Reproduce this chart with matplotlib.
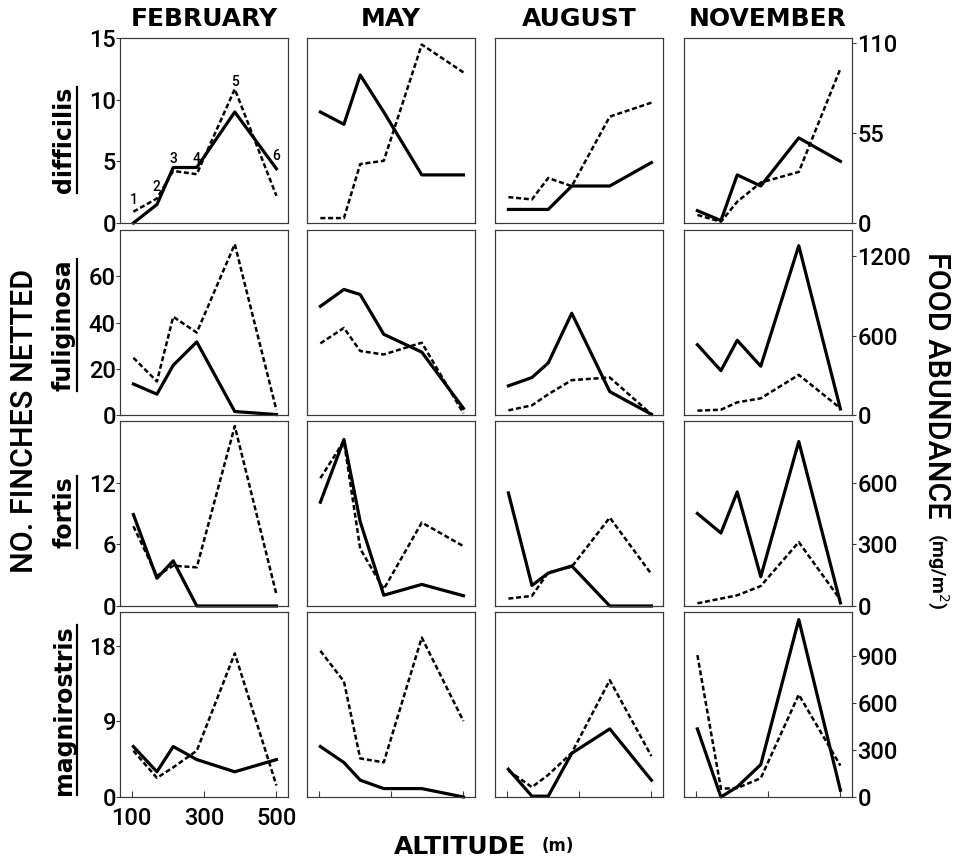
import matplotlib
matplotlib.use("Agg")
import matplotlib.pyplot as plt
from matplotlib.lines import Line2D

plt.rcParams["font.family"] = ["Roboto", "DejaVu Sans"]
plt.rcParams["mathtext.fontset"] = "dejavusans"

# ====================================
# DATA
# ====================================

altitude = [105, 170, 215, 280, 385, 500]
stations = ["1", "2", "3", "4", "5", "6"]
months = ["FEBRUARY", "MAY", "AUGUST", "NOVEMBER"]
species = ["difficilis", "fuliginosa", "fortis", "magnirostris"]

# finches netted (solid), one list per month: Feb, May, Aug, Nov
finches_difficilis = [[0, 1.5, 4.5, 4.5, 9.0, 4.4],
                      [9.0, 8.0, 12.0, 9.0, 3.9, 3.9],
                      [1.1, 1.1, 1.1, 3.0, 3.0, 4.9],
                      [1.0, 0.2, 3.9, 3.0, 6.9, 5.0]]
finches_fuliginosa = [[13.4, 9.0, 21.5, 31.6, 1.5, 0.2],
                      [47, 54.3, 52.1, 34.9, 27.2, 2.9],
                      [12.6, 16.2, 22.5, 44, 10.1, 0.3],
                      [30.4, 19.2, 32.3, 21.1, 73.2, 2.6]]
finches_fortis = [[8.9, 2.7, 4.4, 0, 0, 0],
                  [10.1, 16.2, 8.2, 1.05, 2.1, 1.0],
                  [11.0, 2.0, 3.2, 3.9, 0, 0],
                  [9.0, 7.1, 11.1, 2.85, 16.0, 0.3]]
finches_magnirostris = [[6.0, 3.0, 6.0, 4.45, 3.0, 4.45],
                        [6.0, 4.1, 2.0, 1.0, 1.0, 0],
                        [3.3, 0.1, 0.1, 5.2, 8.1, 2.0],
                        [8.1, 0, 1.2, 3.85, 21.1, 0.8]]

# food abundance mg/m2 (dashed)
food_difficilis = [[6.9, 15, 31.8, 29.8, 81.8, 16.6],
                   [3, 3, 36, 38, 109, 92],
                   [15.8, 14.4, 27.5, 22.5, 65, 73.5],
                   [4.9, 0.8, 13, 24.7, 31.2, 94.3]]
food_fuliginosa = [[433, 254, 743, 624, 1293, 38],
                   [542, 659, 484, 458, 547, 13],
                   [35, 73, 157, 264, 284, 5],
                   [33, 40, 96, 126, 304, 51]]
food_fortis = [[388, 147, 196, 188, 875, 57],
               [622, 802, 278, 82, 406, 291],
               [36, 49, 163, 191, 430, 155],
               [13, 36, 52, 97, 311, 30]]
food_magnirostris = [[295, 122, 189, 295, 916, 74],
                     [932, 737, 246, 221, 1017, 484],
                     [168, 63, 141, 282, 745, 261],
                     [905, 53, 57, 120, 653, 200]]

finches = [finches_difficilis, finches_fuliginosa, finches_fortis, finches_magnirostris]
food = [food_difficilis, food_fuliginosa, food_fortis, food_magnirostris]

left_max = [15, 80, 18, 22]
right_max = [113, 1400, 900, 1180]
left_ticks = [[0, 5, 10, 15], [0, 20, 40, 60], [0, 6, 12], [0, 9, 18]]
right_ticks = [[0, 55, 110], [0, 600, 1200], [0, 300, 600], [0, 300, 600, 900]]
x_ticks = [100, 300, 500]

# ====================================
# LAYOUT
# ====================================

W, H = 957, 864
fig = plt.figure(figsize=(W / 100, H / 100), dpi=100)

col_left = [120, 307, 495, 684]
row_top = [38, 230, 421, 612]
pw, ph = 168, 185
spine_col = "#3a3a3a"
label_y = [1.9, 2.9, 5.2, 5.2, 11.4, 5.4]
tick_font = dict(family="Roboto", size=17, weight=500)

for r in range(4):
    for c in range(4):
        x0, y0 = col_left[c], row_top[r]
        ax = fig.add_axes([x0 / W, 1 - (y0 + ph) / H, pw / W, ph / H])
        ax2 = ax.twinx()

        ax.plot(altitude, finches[r][c], color="k", lw=2.3, clip_on=False)
        ax2.plot(altitude, food[r][c], color="k", lw=1.8,
                 dashes=(2.0, 1.1), clip_on=False)

        ax.set_xlim(68, 532)
        ax.set_ylim(0, left_max[r])
        ax2.set_ylim(0, right_max[r])

        for a in (ax, ax2):
            for s in a.spines.values():
                s.set_color(spine_col)
                s.set_linewidth(0.8)

        if r == 3:
            ax.set_xticks(x_ticks)
            ax.tick_params(axis="x", direction="in", length=4, width=0.8,
                           color=spine_col, pad=7, labelbottom=(c == 0))
            for lab in ax.get_xticklabels():
                lab.set_fontproperties(tick_font)
        else:
            ax.set_xticks([])

        if c == 0:
            ax.set_yticks(left_ticks[r])
            ax.tick_params(axis="y", direction="out", length=3, width=0.8,
                           color=spine_col, pad=0)
            for lab in ax.get_yticklabels():
                lab.set_fontproperties(tick_font)
        else:
            ax.set_yticks([])

        if c == 3:
            ax2.set_yticks(right_ticks[r])
            ax2.tick_params(axis="y", direction="out", length=3, width=0.8,
                            color=spine_col, pad=1)
            for lab in ax2.get_yticklabels():
                lab.set_fontproperties(tick_font)
        else:
            ax2.set_yticks([])

        if r == 0 and c == 0:
            for i, s in enumerate(stations):
                ax.text(altitude[i], label_y[i], s, fontsize=10, fontweight=500,
                        ha="center", va="center")

        if r == 0:
            fig.text((x0 + pw / 2) / W, 1 - 19 / H, months[c],
                     family="DejaVu Sans", fontsize=18, fontweight="bold",
                     ha="center", va="center")

# species names (underlined)
species_y = [140, 325, 512, 710]
sp_texts = []
for r in range(4):
    t = fig.text(64 / W, 1 - species_y[r] / H, species[r],
                 family="DejaVu Sans", fontsize=17, fontweight="bold",
                 rotation=90, ha="center", va="center")
    sp_texts.append(t)

fig.text(25 / W, 1 - 421 / H, "NO. FINCHES NETTED", fontsize=22,
         fontweight=500, rotation=90, ha="center", va="center")
fig.text(936 / W, 1 - 252 / H, "FOOD ABUNDANCE", fontsize=22,
         fontweight=500, rotation=-90, ha="center", va="top")
fig.text(938 / W, 1 - 533 / H, r"(mg/m$^2$)", fontsize=14,
         fontweight="bold", rotation=-90, ha="center", va="top")
fig.text(460 / W, 1 - 847 / H, "ALTITUDE", family="DejaVu Sans",
         fontsize=18, fontweight="bold", ha="center", va="center")
fig.text(558 / W, 1 - 846 / H, "(m)", family="DejaVu Sans", fontsize=12,
         fontweight="bold", ha="center", va="center")

# underline: vertical line just right of each rotated name
fig.canvas.draw()
renderer = fig.canvas.get_renderer()
for t in sp_texts:
    bb = t.get_window_extent(renderer)
    xl = (bb.x1 + 1) / W
    fig.add_artist(Line2D([xl, xl], [bb.y0 / H, bb.y1 / H], color="k", lw=1.6))

plt.savefig("out.png", dpi=100)
